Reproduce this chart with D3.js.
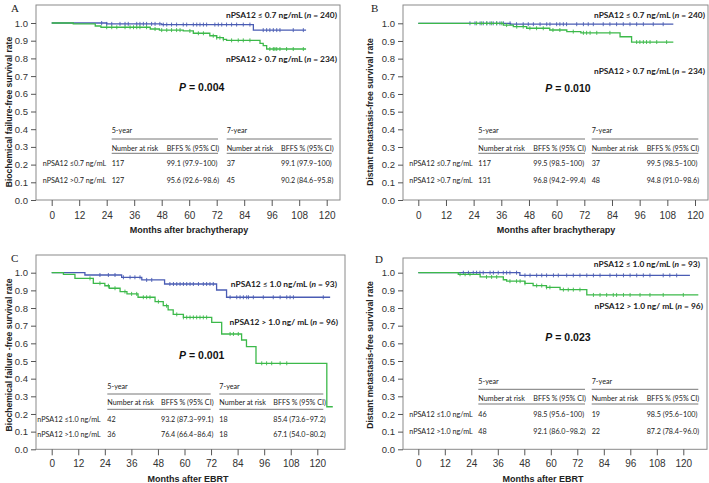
<!DOCTYPE html>
<html><head><meta charset="utf-8">
<script src="https://cdn.jsdelivr.net/npm/d3@7/dist/d3.min.js"></script>
<style>body{margin:0;background:#fff}</style>
</head><body>
<svg id="chart" width="709" height="483"></svg>
<script>
// ---------- data ----------
const monthTicks = [0,12,24,36,48,60,72,84,96,108,120];
const survTicks = [0.0,0.1,0.2,0.3,0.4,0.5,0.6,0.7,0.8,0.9,1.0];

const panelLetters = ["A","B","C","D"];
const yTitles = ["Biochemical failure-free survival rate","Distant metastasis-free survival rate",
                 "Biochemical failure -free survival rate","Distant metastasis-free survival rate"];
const xTitles = ["Months after brachytherapy","Months after brachytherapy","Months after EBRT","Months after EBRT"];
const pValues = ["0.004","0.010","0.001","0.023"];
const lowLabels = ["nPSA12 \u2264 0.7 ng/mL","nPSA12 \u2264 0.7 ng/mL","nPSA12 \u2264 1.0 ng/mL","nPSA12 \u2264 1.0 ng/mL"];
const highLabels = ["nPSA12 > 0.7 ng/mL","nPSA12 > 0.7 ng/mL","nPSA12 > 1.0 ng/ mL","nPSA12 > 1.0 ng/ mL"];
const lowN = [240,240,93,93];
const highN = [234,234,96,96];

const tableRowLabels = [["nPSA12 \u22640.7 ng/mL","nPSA12 >0.7 ng/mL"],["nPSA12 \u22640.7 ng/mL","nPSA12 >0.7 ng/mL"],
                        ["nPSA12 \u22641.0 ng/mL","nPSA12 >1.0 ng/mL"],["nPSA12 \u22641.0 ng/mL","nPSA12 >1.0 ng/mL"]];
const risk5 = [[117,127],[117,131],[42,36],[46,48]];
const bffs5 = [["99.1 (97.9\u2013100)","95.6 (92.6\u201398.6)"],["99.5 (98.5\u2013100)","96.8 (94.2\u201399.4)"],
               ["93.2 (87.3\u201399.1)","76.4 (66.4\u201386.4)"],["98.5 (95.6\u2013100)","92.1 (86.0\u201398.2)"]];
const risk7 = [[37,45],[37,48],[18,18],[19,22]];
const bffs7 = [["99.1 (97.9\u2013100)","90.2 (84.6\u201395.8)"],["99.5 (98.5\u2013100)","94.8 (91.0\u201398.6)"],
               ["85.4 (73.6\u201397.2)","67.1 (54.0\u201380.2)"],["98.5 (95.6\u2013100)","87.2 (78.4\u201396.0)"]];
const tableYears = ["5-year","7-year"];
const tableHeads = ["Number at risk","BFFS % (95% CI)"];

// Panel A
const aLowTimes = [0,24,48,88];
const aLowSurv  = [1.0,0.995,0.991,0.96];
const aLowEnd = 111;
const aLowCensor = [21.8,24,26.2,29.8,32,33.4,37.1,38.5,40,41.4,43.6,45.1,47.2,48.7,50.2,52.3,54.5,57.4,58.9,61.8,63.3,64.7,66.2,67.6,71.2,72.7,74.2,76.3,78.5,80.7,83.6,86.5,92.3,93.8,95.2,96.7,98.2,99.6,105.4,109.8];
const aHighTimes = [0,9.4,19,21.5,43,47,57.4,61.8,69,72,74.9,76.3,90.9,92.3,93.8];
const aHighSurv  = [1.0,0.995,0.983,0.976,0.966,0.96,0.955,0.942,0.928,0.917,0.908,0.902,0.885,0.872,0.853];
const aHighEnd = 111;
const aHighCensor = [24,26.2,28.4,32,34.2,35.7,37.1,38.5,41.4,45.1,48,50.2,52.3,54.5,56,60.3,64,66.2,70.5,72,73.4,74.9,78.5,81.4,83.6,86.5,95.2,96.7,97.4,98.2,99.6,102.5,105.4,109.8];

// Panel B
const bLowTimes = [0,40];
const bLowSurv  = [1.0,0.995];
const bLowEnd = 110.6;
const bLowCensor = [22.4,24.6,26.8,28.2,29.7,31.1,32.5,34,35.4,36.9,39.8,42.6,45.5,47.7,49.9,52.8,55.7,57.1,60,61.4,62.9,64.3,68.7,71.6,73.7,75.9,80.2,83.1,86,88.9,91.8,94.7,97.6,101.9,106.2];
const bHighTimes = [0,36.9,41.2,47,57,64.4,70.5,87.5,92.5];
const bHighSurv  = [1.0,0.99,0.981,0.972,0.962,0.953,0.946,0.924,0.894];
const bHighEnd = 110.6;
const bHighCensor = [25.3,27.5,29.7,31.8,34,36.2,38.3,42.7,45.5,48.4,51.3,54.2,58.4,61.4,67.2,71.6,73,74.5,77.4,83.1,94.7,96.1,97.6,99,100.5,103.4,107.7];

// Panel C
const cLowTimes = [0,15,31.6,40.7,51,74.5,79];
const cLowSurv  = [1.0,0.987,0.974,0.959,0.936,0.902,0.861];
const cLowEnd = 125.8;
const cLowCensor = [21.8,25.6,28.6,32.4,35.4,37.6,39.9,42.9,45.2,53.4,55,56.5,58,59.5,61,62.5,64,66.3,68.5,70,71.5,73,80.6,83.6,85.1,86.6,88.1,88.9,91.1,95.6,100.1,103.2,106.2,107.7,109.2,122.7];
const cHighTimes = [0,5.3,10.5,18.8,24,26,30.9,34,39,46.7,50.4,52.6,54.9,59.5,72.3,76.8,85.8,88,92.3,124.3];
const cHighSurv  = [1.0,0.99,0.968,0.94,0.926,0.912,0.893,0.88,0.861,0.836,0.813,0.789,0.764,0.747,0.719,0.653,0.619,0.581,0.487,0.241];
const cHighEnd = 127;
const cHighCensor = [17.3,21.8,25.6,28.6,33.1,36.1,38.4,41.4,42.9,44.4,48.2,51.9,56.5,59.5,61,62.5,64,65.5,67,68.5,70,80.6,82.1,84.3,94.9,97.1,99.4,103.2,106.2];

// Panel D
const dLowTimes = [0,46];
const dLowSurv  = [1.0,0.985];
const dLowEnd = 123;
const dLowCensor = [20.4,22.7,24.9,26.4,27.9,29.4,32.5,34,36.2,38.5,40,41.5,44.5,48.3,50.6,53.6,55.9,58.1,61.2,63.4,67.2,70.2,73.2,76.3,79.3,82.3,86.8,89.8,92.9,95.9,98.9,101.9,104.9,110.9,113.9,117];
const dHighTimes = [0,18.1,28,38.5,40,48.3,52,58,64.2,76.3];
const dHighSurv  = [1.0,0.991,0.976,0.96,0.952,0.94,0.927,0.917,0.904,0.874];
const dHighEnd = 126.8;
const dHighCensor = [18.9,21.2,23.4,30.9,33.2,35.5,41.5,44.5,46.1,48.3,53.6,55.9,58.1,59.6,65.7,67.9,70.2,73.2,79.3,82.3,85.3,88.3,89.8,92.9,95.9,100.4,104.9,110.9,120];

// ---------- layout ----------
const BLUE = "#4a5cb4", GREEN = "#3cb94a";
const layouts = [
  {box:[36,5,340,200], x0:51.7, x120:326.7, y1:23, y0:200, letter:[11,12], yTitle:[9,112], tickY:219, xTitle:[189,233],
   label1:[337,17.5], label2:[337,62], p:[201.7,90.5],
   cols:[111.7,166.7,226.7,281], rowX:42.7, lines:[[111.7,218],[226.7,331.7]], ty:[133,139,151,153.3,166,183]},
  {box:[403,5,708,200], x0:418.3, x120:695, y1:23.3, y0:200, letter:[371,12], yTitle:[370,112], tickY:219, xTitle:[556,233],
   label1:[705,17.5], label2:[705,73.5], p:[568,91.5],
   cols:[478.3,533.3,591.7,646.7], rowX:409.3, lines:[[478.3,585],[591.7,698.3]], ty:[133,139,151,153.3,166,183]},
  {box:[36,255,345,449.3], x0:51.7, x120:317.3, y1:272.7, y0:449.3, letter:[11,262], yTitle:[9,355], tickY:467.5, xTitle:[188,481.5],
   label1:[337,286.5], label2:[338,325], p:[201.7,359],
   cols:[107.3,161,219.3,273.3], rowX:37.3, lines:[[107.3,210.7],[219.3,323.3]], ty:[389,394,405,409.3,421.5,437]},
  {box:[403,258,707,449.3], x0:418.3, x120:683.3, y1:272.7, y0:449.3, letter:[375,263], yTitle:[370,355], tickY:467.5, xTitle:[543,481.5],
   label1:[700,267], label2:[703,309], p:[568,341],
   cols:[478.3,533.3,591.7,646.7], rowX:409.3, lines:[[478.3,585],[591.7,698.3]], ty:[384,389.3,400.5,404,417,433.7]}
];

const series = [
  {low:{t:aLowTimes,s:aLowSurv,end:aLowEnd,c:aLowCensor}, high:{t:aHighTimes,s:aHighSurv,end:aHighEnd,c:aHighCensor}},
  {low:{t:bLowTimes,s:bLowSurv,end:bLowEnd,c:bLowCensor}, high:{t:bHighTimes,s:bHighSurv,end:bHighEnd,c:bHighCensor}},
  {low:{t:cLowTimes,s:cLowSurv,end:cLowEnd,c:cLowCensor}, high:{t:cHighTimes,s:cHighSurv,end:cHighEnd,c:cHighCensor}},
  {low:{t:dLowTimes,s:dLowSurv,end:dLowEnd,c:dLowCensor}, high:{t:dHighTimes,s:dHighSurv,end:dHighEnd,c:dHighCensor}}
];

const svg = d3.select("#chart");
const SANS = "'Liberation Sans', Arial, sans-serif";
const LATO = "Lato, 'Open Sans', sans-serif";

layouts.forEach((L, i) => {
  const g = svg.append("g");
  const x = d3.scaleLinear().domain([0,120]).range([L.x0, L.x120]);
  const y = d3.scaleLinear().domain([0,1]).range([L.y0, L.y1]);
  const [bl, bt, br, bb] = L.box;

  // box
  g.append("rect").attr("x", bl).attr("y", bt).attr("width", br-bl).attr("height", bb-bt)
    .attr("fill","none").attr("stroke","#8a8a8a").attr("stroke-width",1);

  // axes
  const ya = g.append("g").attr("transform",`translate(${bl},0)`)
    .call(d3.axisLeft(y).tickValues(survTicks).tickFormat(d3.format(".1f")).tickSize(5).tickPadding(3));
  const xa = g.append("g").attr("transform",`translate(0,${bb})`)
    .call(d3.axisBottom(x).tickValues(monthTicks).tickSize(6).tickPadding(5));
  [ya, xa].forEach(a => {
    a.select(".domain").remove();
    a.selectAll("line").attr("stroke","#555");
    a.selectAll("text").attr("fill","#333").style("font-family",SANS);
  });
  ya.selectAll("text").style("font-size","9.5px");
  xa.selectAll("text").style("font-size","10px").attr("y", null).attr("dy", null)
    .attr("transform", null).each(function(){ d3.select(this).attr("y", L.tickY - bb); });

  // titles
  g.append("text").attr("transform",`translate(${L.yTitle[0]},${L.yTitle[1]}) rotate(-90)`)
    .attr("text-anchor","middle").attr("dy","0.35em").style("font-family",SANS).style("font-size","8.6px")
    .style("font-weight","bold").attr("fill","#222").text(yTitles[i]);
  g.append("text").attr("x",L.xTitle[0]).attr("y",L.xTitle[1]).attr("text-anchor","middle")
    .style("font-family",SANS).style("font-size","9px").style("font-weight","bold").attr("fill","#222").text(xTitles[i]);
  g.append("text").attr("x",L.letter[0]).attr("y",L.letter[1]).style("font-family","'Liberation Serif', 'DejaVu Serif', serif")
    .style("font-size","11px").attr("fill","#222").text(panelLetters[i]);

  // curves
  const line = d3.line().x(d=>x(d[0])).y(d=>y(d[1])).curve(d3.curveStepAfter);
  const drawSeries = (S, color) => {
    const pts = S.t.map((t,k)=>[t,S.s[k]]);
    pts.push([S.end, S.s[S.s.length-1]]);
    g.append("path").attr("d", line(pts)).attr("fill","none").attr("stroke",color).attr("stroke-width",1.3);
    const survAt = t => S.s[Math.max(0, d3.bisectRight(S.t, t) - 1)];
    g.append("g").selectAll("line").data(S.c).join("line")
      .attr("x1",d=>x(d)).attr("x2",d=>x(d))
      .attr("y1",d=>y(survAt(d))-2).attr("y2",d=>y(survAt(d))+2)
      .attr("stroke",color).attr("stroke-width",0.9);
  };
  drawSeries(series[i].low, BLUE);
  drawSeries(series[i].high, GREEN);

  // curve labels
  const lab = (pos, txt, n) => {
    const t = g.append("text").attr("x",pos[0]).attr("y",pos[1]).attr("text-anchor","end")
      .style("font-family",LATO).style("font-size","8.4px").style("font-weight","bold").attr("fill","#222");
    t.append("tspan").text(txt + " (");
    t.append("tspan").style("font-style","italic").text("n");
    t.append("tspan").text(" = " + n + ")");
  };
  lab(L.label1, lowLabels[i], lowN[i]);
  lab(L.label2, highLabels[i], highN[i]);

  // p value
  const pt = g.append("text").attr("x",L.p[0]).attr("y",L.p[1]).attr("text-anchor","middle")
    .style("font-family",SANS).style("font-size","10.5px").style("font-weight","bold").attr("fill","#111");
  pt.append("tspan").style("font-style","italic").text("P");
  pt.append("tspan").text(" = " + pValues[i]);

  // table
  const tt = (xx, yy, txt) => g.append("text").attr("x",xx).attr("y",yy)
    .style("font-family",LATO).style("font-size","7.2px").attr("fill","#222").text(txt);
  const [yYear, yLine1, yHead, yLine2, yR1, yR2] = L.ty;
  tt(L.cols[0], yYear, tableYears[0]);
  tt(L.cols[2], yYear, tableYears[1]);
  L.lines.forEach(seg => {
    [yLine1, yLine2].forEach(yy => g.append("line").attr("x1",seg[0]).attr("x2",seg[1]).attr("y1",yy).attr("y2",yy)
      .attr("stroke","#777").attr("stroke-width",1));
  });
  tt(L.cols[0], yHead, tableHeads[0]); tt(L.cols[1], yHead, tableHeads[1]);
  tt(L.cols[2], yHead, tableHeads[0]); tt(L.cols[3], yHead, tableHeads[1]);
  [yR1, yR2].forEach((yy, r) => {
    tt(L.rowX, yy, tableRowLabels[i][r]);
    tt(L.cols[0], yy, String(risk5[i][r]));
    tt(L.cols[1], yy, bffs5[i][r]);
    tt(L.cols[2], yy, String(risk7[i][r]));
    tt(L.cols[3], yy, bffs7[i][r]);
  });
});
</script>
</body></html>
